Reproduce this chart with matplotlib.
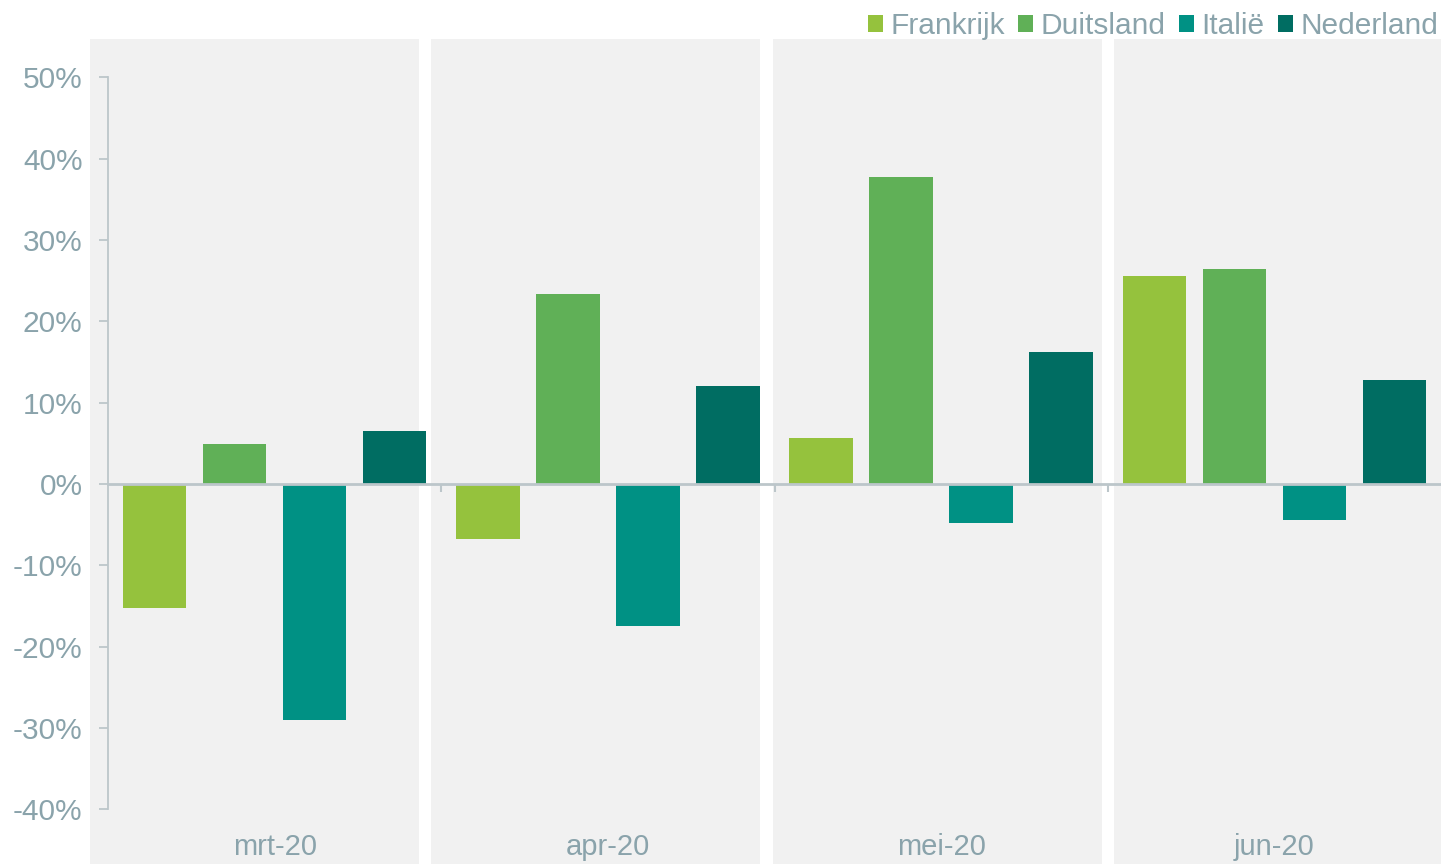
import matplotlib
matplotlib.use("Agg")
import matplotlib.pyplot as plt
from matplotlib.patches import Rectangle, Patch
from matplotlib.ticker import FuncFormatter, MultipleLocator
import numpy as np

plt.rcParams["font.family"] = ["Liberation Sans", "DejaVu Sans"]

months = ["mrt-20", "apr-20", "mei-20", "jun-20"]
countries = ["Frankrijk", "Duitsland", "Italië", "Nederland"]
frankrijk = [-15.2, -6.8, 5.7, 25.6]
duitsland = [4.9, 23.4, 37.7, 26.4]
italie = [-29.0, -17.5, -4.8, -4.4]
nederland = [6.5, 12.1, 16.2, 12.8]
series = [frankrijk, duitsland, italie, nederland]
colors = ["#95c23d", "#60b057", "#009184", "#006d62"]

TEXT = "#8aa3ab"
AXIS = "#bcc6ca"
PANEL = "#f1f1f1"

W, H = 1441, 864
fig = plt.figure(figsize=(W / 100, H / 100), dpi=100)

# grey background panels behind each month
for i in range(len(months)):
    x0 = (90 + i * 341.3) / W
    fig.patches.append(Rectangle((x0, 0), 329 / W, (H - 39) / H, transform=fig.transFigure,
                                 facecolor=PANEL, edgecolor="none", zorder=-10))

ax = fig.add_axes([108 / W, 54.7 / H, (W - 108) / W, 732 / H])
ax.patch.set_alpha(0)

x = np.arange(len(months))
width = 0.19
step = 0.24
for k, (vals, col) in enumerate(zip(series, colors)):
    ax.bar(x + (k - 1.5) * step, vals, width, color=col, edgecolor="none", zorder=3)

ax.set_xlim(-0.5, len(months) - 0.5)
ax.set_ylim(-40, 50)
ax.yaxis.set_major_locator(MultipleLocator(10))
ax.yaxis.set_major_formatter(FuncFormatter(lambda v, _: f"{v:.0f}%"))

for s in ["top", "right"]:
    ax.spines[s].set_visible(False)
ax.spines["left"].set_color(AXIS)
ax.spines["left"].set_linewidth(1.3)
ax.spines["bottom"].set_position(("data", 0))
ax.spines["bottom"].set_color(AXIS)
ax.spines["bottom"].set_linewidth(2.0)
ax.spines["bottom"].set_zorder(4)

ax.set_xticks(x[:-1] + 0.5)
ax.set_xticklabels([])
ax.tick_params(axis="x", direction="out", length=6, width=1.5, color=AXIS)
ax.tick_params(axis="y", direction="out", length=6.3, width=1.3, color=AXIS,
               labelsize=21.5, labelcolor=TEXT, pad=12)

for i, m in enumerate(months):
    ax.text(i, -0.052, m, transform=ax.get_xaxis_transform(), ha="center", va="center",
            fontsize=21, color=TEXT)

handles = [Patch(facecolor=c, edgecolor="none") for c in colors]
fig.legend(handles, countries, loc="upper right", bbox_to_anchor=(1 + 8 / W, 1 - 2 / H), ncol=4,
           frameon=False, fontsize=21.5, labelcolor=TEXT, handlelength=0.5, handleheight=0.5,
           handletextpad=0.25, columnspacing=0.45, borderpad=0.3, borderaxespad=0.05)

fig.savefig("out.png", dpi=100)
